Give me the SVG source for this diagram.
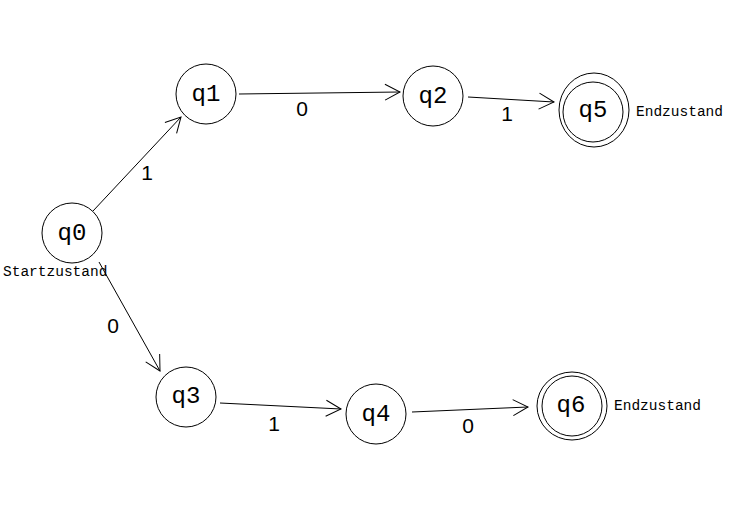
<svg xmlns="http://www.w3.org/2000/svg" width="735" height="524" viewBox="0 0 735 524">
<style>
.st{fill:none;stroke:#000;stroke-width:1}
.lbl{font-family:"Liberation Mono",monospace;font-size:24px;text-anchor:middle;fill:#000}
.note{font-family:"Liberation Mono",monospace;font-size:14.5px;fill:#000}
.el{font-family:"Liberation Sans",Arial,sans-serif;font-size:21px;text-anchor:middle;fill:#000}
.edge{fill:none;stroke:#000;stroke-width:1;marker-end:url(#arr)}
</style>
<defs>
<marker id="arr" markerUnits="userSpaceOnUse" markerWidth="24" markerHeight="24" refX="18" refY="10" orient="auto">
<path d="M3,2 L18,10 L3,18" fill="none" stroke="#000" stroke-width="1"/>
</marker>
</defs>
<rect width="735" height="524" fill="#fff"/>
<g id="connectors">
<line class="edge" x1="93" y1="211" x2="181" y2="117"/>
<line class="edge" x1="99" y1="262" x2="160" y2="371"/>
<line class="edge" x1="239" y1="94" x2="400" y2="92"/>
<line class="edge" x1="468" y1="97" x2="554" y2="102"/>
<line class="edge" x1="220" y1="403" x2="341" y2="409"/>
<line class="edge" x1="412" y1="412" x2="528" y2="407"/>
<text class="el" x="147" y="180">1</text>
<text class="el" x="113" y="333">0</text>
<text class="el" x="302" y="116">0</text>
<text class="el" x="507" y="121">1</text>
<text class="el" x="274" y="431">1</text>
<text class="el" x="468" y="433">0</text>
</g>
<g id="q0">
<circle class="st" cx="72" cy="233" r="30"/>
<text class="lbl" x="72" y="240">q0</text>
<text class="note" x="3" y="276">Startzustand</text>
</g>
<g id="q1">
<circle class="st" cx="206" cy="94" r="30"/>
<text class="lbl" x="206" y="101">q1</text>
</g>
<g id="q2">
<circle class="st" cx="433" cy="96" r="30"/>
<text class="lbl" x="433" y="103">q2</text>
</g>
<g id="q5">
<ellipse class="st" cx="594" cy="110" rx="35" ry="37"/>
<circle class="st" cx="593" cy="112" r="30"/>
<text class="lbl" x="593" y="117">q5</text>
<text class="note" x="636" y="116">Endzustand</text>
</g>
<g id="q3">
<circle class="st" cx="186" cy="397" r="30"/>
<text class="lbl" x="186" y="403">q3</text>
</g>
<g id="q4">
<circle class="st" cx="376" cy="414" r="30"/>
<text class="lbl" x="376" y="421">q4</text>
</g>
<g id="q6">
<ellipse class="st" cx="572" cy="406" rx="35" ry="34"/>
<circle class="st" cx="572" cy="406" r="30"/>
<text class="lbl" x="571" y="412">q6</text>
<text class="note" x="614" y="410">Endzustand</text>
</g>
</svg>
